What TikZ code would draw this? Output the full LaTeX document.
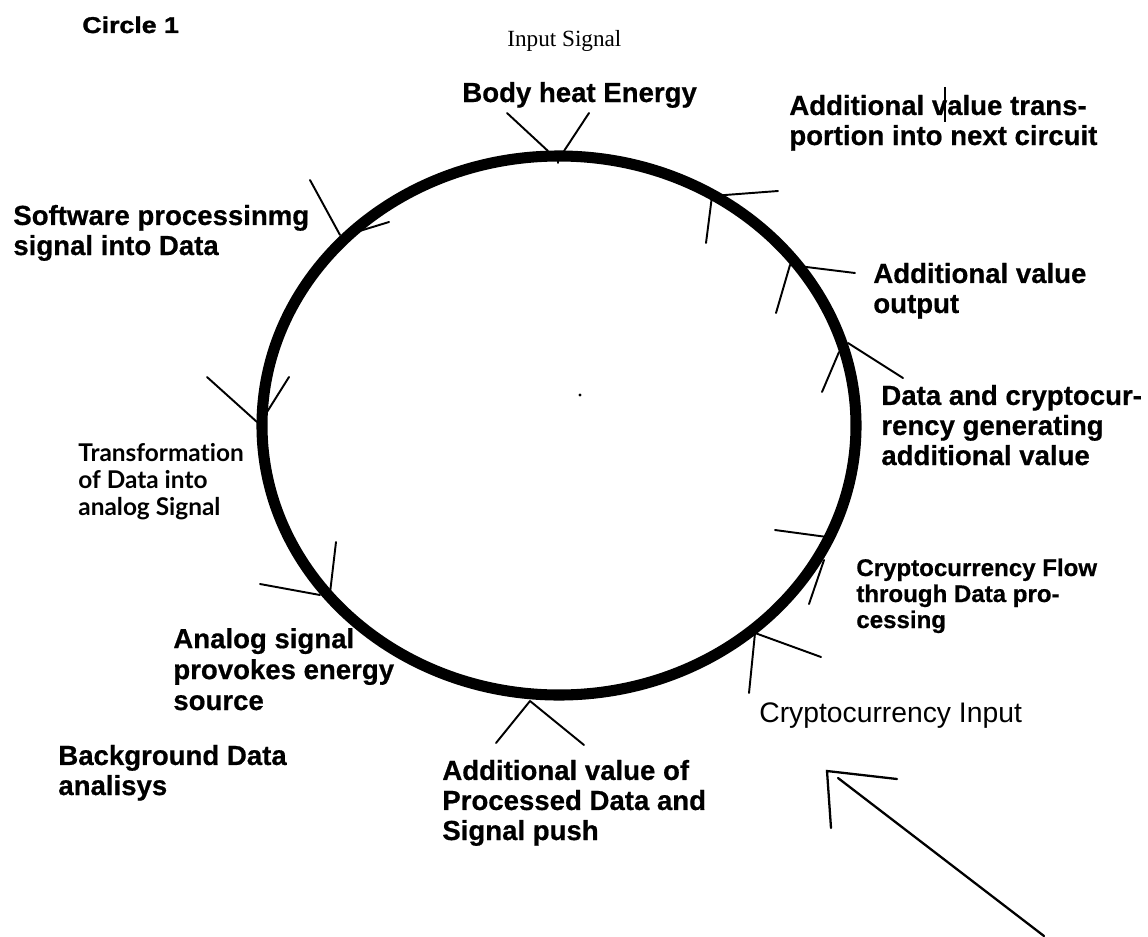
\documentclass[tikz,border=0pt]{standalone}
\usepackage{fontspec}
\setmainfont{Liberation Sans}[BoldFeatures={FakeBold=0.6}]
\newfontfamily\serifa{Liberation Serif}
\newfontfamily\humanista{Lato}[Ligatures=NoCommon]
\newfontfamily\pesada{Liberation Sans}[FakeStretch=1.17,FakeBold=1.5]
\tikzset{
  rotulo/.style={anchor=base west, inner sep=0pt, align=left,
                 font=\bfseries\fontsize{15.7}{17.1}\selectfont},
  rotulomenor/.style={rotulo, font=\bfseries\fontsize{13.7}{14.8}\selectfont},
  rotulohum/.style={rotulo, font=\humanista\bfseries\fontsize{13.9}{15.1}\selectfont},
  anel/.style={line width=6.3pt},
  marca/.style={line width=1.1pt, line cap=round},
  seta/.style={line width=1.3pt, line cap=round},
}

\begin{document}
\begin{tikzpicture}[x=0.02cm, y=-0.02cm]
  \useasboundingbox (0,0) rectangle (1148,936);

  % Círculo principal
  \coordinate (centro) at (559,425.5);
  \draw[anel] (centro) ellipse [x radius=297, y radius=269.5];
  \fill (580,395) circle [radius=1.6];

  % Marcas nas entradas e saídas do círculo
  \foreach \xa/\ya/\xb/\yb in {507/113/548/151, 589/113/564/151, 558/158/558/163,
      778/191/712/196, 712/196/706/243,
      855/273/790/265, 790/265/776/313,
      903/378/848/343, 839/352/822/392,
      775/530/827/537, 824/560/809/604,
      821/657/755/633, 755/633/749/693,
      496/743/530/701, 530/701/584/745,
      260/584/320/595, 336/542/330/593,
      207/377/257/422, 289/377/267/412,
      310/180/340/235, 353/233/389/222}{
    \draw[marca] (\xa,\ya) -- (\xb,\yb);
  }
  \draw[line width=0.8pt] (945,87) -- (945,122);

  % Rótulos (base = linha de base da última linha)
  \node[anchor=base west, inner sep=0pt, font=\pesada\bfseries\fontsize{13}{15}\selectfont] (titulo) at (82,33) {Circle 1};
  \node[anchor=base west, inner sep=0pt, font=\serifa\fontsize{13.2}{15}\selectfont] (entrada) at (507,47) {Input Signal};
  \node[rotulo] (corpo) at (462,102) {Body heat Energy};
  \node[rotulo] (transp) at (789,145) {Additional value trans-\\portion into next circuit};
  \node[rotulo] (saida) at (873,313) {Additional value\\output};
  \node[rotulo] (cripto) at (881,465) {Data and cryptocur-\\rency generating\\additional value};
  \node[rotulomenor] (fluxo) at (856,628) {Cryptocurrency Flow\\through Data pro-\\cessing};
  \node[anchor=base west, inner sep=0pt, font=\fontsize{16.1}{18}\selectfont] (criptoin) at (759,722) {Cryptocurrency Input};
  \node[rotulo] (soft) at (13,255) {Software processinmg\\signal into Data};
  \node[rotulohum] (transf) at (78,515) {Transformation\\of Data into\\analog Signal};
  \node[rotulo, font=\bfseries\fontsize{15.7}{17.6}\selectfont] (analog) at (173,710) {Analog signal\\provokes energy\\source};
  \node[rotulo] (fundo) at (58,795) {Background Data\\analisys};
  \node[rotulo] (proc) at (442,840) {Additional value of\\Processed Data and\\Signal push};

  % Seta de entrada da criptomoeda
  \coordinate (setaini) at (1044,936);
  \coordinate (setafim) at (838,778);
  \coordinate (ponta) at (827,771);
  \draw[seta] (setaini) -- (setafim);
  \draw[seta] (897,779) -- (ponta) -- (831,828);
\end{tikzpicture}
\end{document}
